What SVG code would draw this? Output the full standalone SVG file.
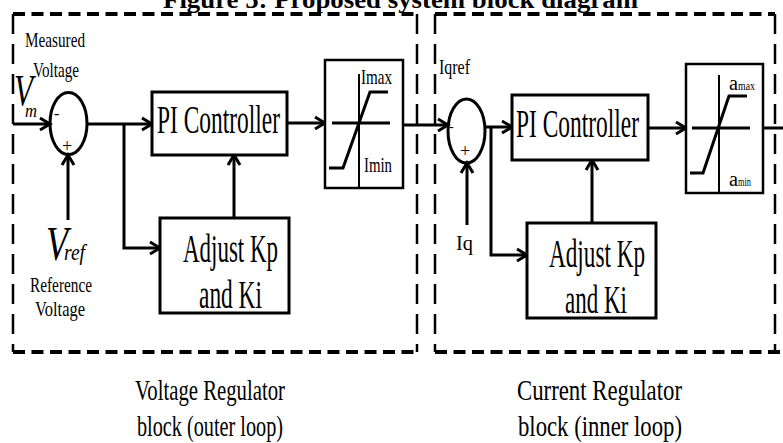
<svg xmlns="http://www.w3.org/2000/svg" width="783" height="443" viewBox="0 0 783 443">
<style>
.t{font-family:"Liberation Serif","Times New Roman",serif;fill:#000}
.ti{font-family:"Liberation Serif","Times New Roman",serif;font-style:italic;fill:#000}
.title{font-family:"Liberation Serif","Times New Roman",serif;font-weight:bold;font-size:26px;fill:#000}
.box{fill:#fff;stroke:#000;stroke-width:3}
.sbox{fill:#fff;stroke:#000;stroke-width:2.5}
.ln{fill:none;stroke:#000;stroke-width:3}
.thin{fill:none;stroke:#000;stroke-width:2}
.dh{fill:none;stroke:#000;stroke-width:4;stroke-dasharray:12 6.5}
.dv{fill:none;stroke:#000;stroke-width:2.5;stroke-dasharray:20 10}
</style>
<defs>
<marker id="arr" markerUnits="userSpaceOnUse" markerWidth="14" markerHeight="14" refX="11" refY="6" orient="auto" overflow="visible">
<path d="M1,0 L11,6 L1,12" fill="none" stroke="#000" stroke-width="3"/>
</marker>
</defs>
<rect width="783" height="443" fill="#fff"/>

<text class="title" x="163" y="8" textLength="475" lengthAdjust="spacingAndGlyphs">Figure 5: Proposed system block diagram</text>

<g id="outer-loop-frame">
<line class="dh" x1="13" y1="14" x2="417" y2="14"/>
<line class="dh" x1="13" y1="352" x2="417" y2="352"/>
<line class="dv" x1="13" y1="14" x2="13" y2="352"/>
<line class="dv" x1="417" y1="14" x2="417" y2="352"/>
</g>
<g id="inner-loop-frame">
<line class="dh" x1="435" y1="14" x2="775" y2="14"/>
<line class="dh" x1="435" y1="352" x2="783" y2="352"/>
<line class="dv" x1="435" y1="14" x2="435" y2="352"/>
<line class="dv" x1="775" y1="14" x2="775" y2="352"/>
</g>

<g id="connectors">
<line class="ln" x1="13" y1="124" x2="50" y2="124" marker-end="url(#arr)"/>
<line class="ln" x1="68" y1="220" x2="68" y2="155" marker-end="url(#arr)"/>
<line class="ln" x1="87" y1="124" x2="152" y2="124" marker-end="url(#arr)"/>
<polyline class="ln" points="124,124 124,248 160,248" marker-end="url(#arr)"/>
<line class="ln" x1="234" y1="218" x2="234" y2="155" marker-end="url(#arr)"/>
<line class="ln" x1="287" y1="123" x2="325" y2="123" marker-end="url(#arr)"/>
<line class="ln" x1="403" y1="125" x2="448" y2="125" marker-end="url(#arr)"/>
<line class="ln" x1="467" y1="225" x2="467" y2="163" marker-end="url(#arr)"/>
<line class="ln" x1="485" y1="127" x2="512" y2="127" marker-end="url(#arr)"/>
<polyline class="ln" points="491,127 491,255 527,255" marker-end="url(#arr)"/>
<line class="ln" x1="592" y1="223" x2="592" y2="160" marker-end="url(#arr)"/>
<line class="ln" x1="648" y1="128" x2="686" y2="128" marker-end="url(#arr)"/>
<line class="ln" x1="763" y1="128" x2="783" y2="128"/>
</g>

<g id="sum1">
<ellipse class="ln" cx="68.5" cy="123.5" rx="18.5" ry="31"/>
<text class="t" x="54" y="119" font-size="16">-</text>
<text class="t" x="62" y="152" font-size="18">+</text>
</g>

<g id="vm-label">
<text class="t" x="25" y="47" font-size="21" textLength="60" lengthAdjust="spacingAndGlyphs">Measured</text>
<text class="t" x="33" y="77" font-size="21" textLength="46" lengthAdjust="spacingAndGlyphs">Voltage</text>
<text class="ti" x="14" y="105" font-size="44" textLength="19" lengthAdjust="spacingAndGlyphs">V</text>
<text class="ti" x="25" y="117" font-size="19" textLength="12" lengthAdjust="spacingAndGlyphs">m</text>
</g>

<g id="vref-label">
<text class="ti" x="46" y="260" font-size="48" textLength="22" lengthAdjust="spacingAndGlyphs">V</text>
<text class="ti" x="64" y="260" font-size="24" textLength="21" lengthAdjust="spacingAndGlyphs">ref</text>
<text class="t" x="30" y="292" font-size="21" textLength="62" lengthAdjust="spacingAndGlyphs">Reference</text>
<text class="t" x="35" y="316" font-size="21" textLength="50" lengthAdjust="spacingAndGlyphs">Voltage</text>
</g>

<g id="pi1">
<rect class="box" x="152" y="92" width="135" height="63"/>
<text class="t" x="157" y="133" font-size="39" textLength="123" lengthAdjust="spacingAndGlyphs">PI Controller</text>
</g>

<g id="adjust1">
<rect class="box" x="160" y="218" width="129" height="95"/>
<text class="t" x="183" y="262" font-size="40" textLength="95" lengthAdjust="spacingAndGlyphs">Adjust Kp</text>
<text class="t" x="199" y="308" font-size="40" textLength="63" lengthAdjust="spacingAndGlyphs">and Ki</text>
</g>

<g id="sat1">
<rect class="sbox" x="325" y="60" width="78" height="128"/>
<line class="ln" x1="332" y1="123" x2="390" y2="123"/>
<line class="thin" x1="359" y1="74" x2="359" y2="188"/>
<polyline class="ln" points="329,168 343,168 370,92 388,92"/>
<text class="t" x="361" y="84" font-size="22" textLength="31" lengthAdjust="spacingAndGlyphs">Imax</text>
<text class="t" x="364" y="172" font-size="22" textLength="28" lengthAdjust="spacingAndGlyphs">Imin</text>
</g>

<g id="sum2">
<ellipse class="ln" cx="466.5" cy="131" rx="18.5" ry="32"/>
<text class="t" x="449" y="131" font-size="14">-</text>
<text class="t" x="460" y="157" font-size="18">+</text>
</g>

<g id="iq-labels">
<text class="t" x="439" y="74" font-size="20" textLength="31" lengthAdjust="spacingAndGlyphs">Iqref</text>
<text class="t" x="456" y="250" font-size="20" textLength="17" lengthAdjust="spacingAndGlyphs">Iq</text>
</g>

<g id="pi2">
<rect class="box" x="512" y="95" width="136" height="65"/>
<text class="t" x="516" y="137" font-size="39" textLength="123" lengthAdjust="spacingAndGlyphs">PI Controller</text>
</g>

<g id="adjust2">
<rect class="box" x="527" y="223" width="129" height="95"/>
<text class="t" x="549" y="267" font-size="40" textLength="96" lengthAdjust="spacingAndGlyphs">Adjust Kp</text>
<text class="t" x="565" y="313" font-size="40" textLength="62" lengthAdjust="spacingAndGlyphs">and Ki</text>
</g>

<g id="sat2">
<rect class="sbox" x="686" y="64" width="77" height="129"/>
<line class="ln" x1="692" y1="128" x2="750" y2="128"/>
<line class="thin" x1="719" y1="75" x2="719" y2="193"/>
<polyline class="ln" points="690,173 703,173 729,96 747,96"/>
<text class="t" x="729" y="90" font-size="20"><tspan textLength="9" lengthAdjust="spacingAndGlyphs">a</tspan><tspan font-size="13" textLength="17" lengthAdjust="spacingAndGlyphs">max</tspan></text>
<text class="t" x="729" y="186" font-size="20"><tspan textLength="9" lengthAdjust="spacingAndGlyphs">a</tspan><tspan font-size="13" textLength="13" lengthAdjust="spacingAndGlyphs">min</tspan></text>
</g>

<g id="captions">
<text class="t" x="135" y="400" font-size="29" textLength="150" lengthAdjust="spacingAndGlyphs">Voltage Regulator</text>
<text class="t" x="137" y="436" font-size="29" textLength="146" lengthAdjust="spacingAndGlyphs">block (outer loop)</text>
<text class="t" x="517" y="400" font-size="29" textLength="165" lengthAdjust="spacingAndGlyphs">Current Regulator</text>
<text class="t" x="518" y="436" font-size="29" textLength="164" lengthAdjust="spacingAndGlyphs">block (inner loop)</text>
</g>
</svg>
